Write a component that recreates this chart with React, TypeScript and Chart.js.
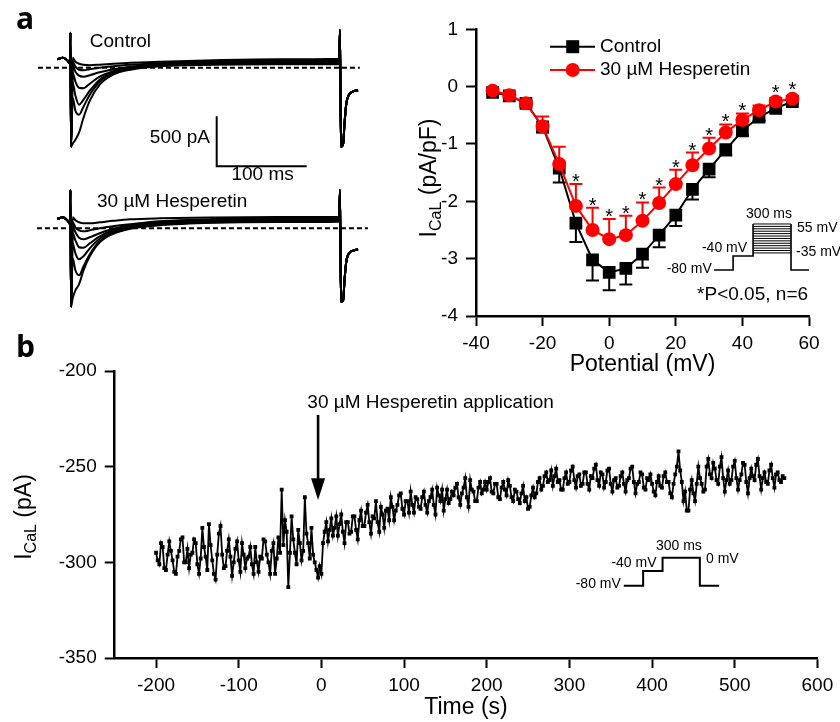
import React, { useEffect, useRef } from "react";
import { Chart, registerables } from "chart.js";

Chart.register(...registerables);

const FONT = '"Liberation Sans", Arial, Helvetica, sans-serif';
const LETTER_FONT = '"Open Sans", "Liberation Sans", sans-serif';
const RED = "#ff0000";

// ---------- Panel a (left): current traces (ms, pA) ----------
const traceTimes = [-14, -8, -3, 0, 0.4, 1.2, 3, 6, 10, 15, 22, 33, 48, 67, 100, 160, 230, 299, 300, 301, 303.5, 305, 307, 310, 314, 320];
const controlTrace1 = [85, 100, 75, 40, 350, -790, -760, -720, -650, -500, -330, -170, -70, -20, 15, 30, 35, 35, 377, -790, -760, -560, -360, -270, -240, -225];
const controlTrace2 = [85, 100, 75, 40, 350, -790, -300, -430, -470, -390, -270, -140, -55, -10, 20, 38, 42, 45, 377, -790, -760, -560, -360, -270, -240, -225];
const controlTrace3 = [85, 100, 75, 40, 350, -790, -150, -280, -370, -320, -230, -120, -45, -5, 25, 45, 50, 55, 377, -790, -760, -560, -360, -270, -240, -225];
const controlTrace4 = [85, 100, 75, 40, 350, -790, -50, -140, -200, -205, -160, -90, -35, 0, 30, 50, 57, 60, 377, -790, -760, -560, -360, -270, -240, -225];
const controlTrace5 = [85, 100, 75, 40, 350, -790, 20, -40, -80, -90, -75, -45, -15, 10, 35, 55, 65, 70, 377, -790, -760, -560, -360, -270, -240, -225];
const controlTrace6 = [85, 100, 75, 40, 350, -790, 100, 60, 40, 30, 25, 30, 40, 50, 60, 75, 85, 90, 377, -790, -760, -560, -360, -270, -240, -225];
const controlTrace7 = [85, 100, 75, 40, 350, -790, 60, 10, -20, -25, -15, 0, 15, 30, 45, 65, 75, 80, 377, -790, -760, -560, -360, -270, -240, -225];
const hesTrace1 = [95, 110, 80, 45, 383, -784, -700, -620, -560, -420, -280, -140, -55, -5, 30, 55, 62, 65, 383, -734, -720, -520, -330, -250, -225, -210];
const hesTrace2 = [95, 110, 80, 45, 383, -784, -300, -420, -470, -380, -260, -130, -50, 0, 35, 60, 68, 72, 383, -734, -720, -520, -330, -250, -225, -210];
const hesTrace3 = [95, 110, 80, 45, 383, -784, -150, -250, -310, -280, -200, -105, -35, 10, 45, 70, 78, 80, 383, -734, -720, -520, -330, -250, -225, -210];
const hesTrace4 = [95, 110, 80, 45, 383, -784, -50, -120, -190, -195, -150, -80, -20, 20, 55, 78, 86, 88, 383, -734, -720, -520, -330, -250, -225, -210];
const hesTrace5 = [95, 110, 80, 45, 383, -784, 20, -40, -95, -110, -90, -50, -5, 30, 65, 85, 93, 95, 383, -734, -720, -520, -330, -250, -225, -210];
const hesTrace6 = [95, 110, 80, 45, 383, -784, 110, 80, 60, 50, 50, 60, 75, 90, 100, 108, 112, 115, 383, -734, -720, -520, -330, -250, -225, -210];
const hesTrace7 = [95, 110, 80, 45, 383, -784, 60, 10, -20, -30, -20, 0, 20, 40, 70, 92, 100, 102, 383, -734, -720, -520, -330, -250, -225, -210];
const controlTraces = [controlTrace1, controlTrace2, controlTrace3, controlTrace4, controlTrace5, controlTrace6, controlTrace7];
const hesTraces = [hesTrace1, hesTrace2, hesTrace3, hesTrace4, hesTrace5, hesTrace6, hesTrace7];
const controlBaselineSpan = [-35.6, 322];
const hesBaselineSpan = [-36.7, 331];
const scaleBarTimes = [163, 263]; // 100 ms
const scaleBarCurrents = [-485, -985]; // 500 pA

// ---------- Panel a (right): I-V relation ----------
const voltages = [-35, -30, -25, -20, -15, -10, -5, 0, 5, 10, 15, 20, 25, 30, 35, 40, 45, 50, 55];
const controlMean = [-0.10, -0.16, -0.29, -0.70, -1.42, -2.38, -3.02, -3.24, -3.17, -2.92, -2.59, -2.24, -1.79, -1.44, -1.10, -0.77, -0.53, -0.38, -0.26];
const controlSem = [0.03, 0.03, 0.05, 0.10, 0.25, 0.33, 0.36, 0.31, 0.28, 0.24, 0.21, 0.19, 0.18, 0.14, 0.10, 0.08, 0.06, 0.05, 0.04];
const hesMean = [-0.07, -0.15, -0.29, -0.69, -1.35, -2.08, -2.50, -2.66, -2.59, -2.34, -2.03, -1.70, -1.37, -1.08, -0.80, -0.58, -0.41, -0.26, -0.21];
const hesSem = [0.03, 0.03, 0.05, 0.17, 0.30, 0.38, 0.39, 0.35, 0.34, 0.32, 0.27, 0.25, 0.22, 0.19, 0.14, 0.11, 0.08, 0.06, 0.05];
const significant = [0, 0, 0, 0, 0, 1, 1, 1, 1, 1, 1, 1, 1, 1, 1, 1, 0, 1, 1];
const ivXTicks = [-40, -20, 0, 20, 40, 60];
const ivYTicks = [-4, -3, -2, -1, 0, 1];

// ---------- Panel b: time course (one sweep every 2 s) ----------
const timeStart = -200;
const timeStep = 2;
const icalValues = [
  -295, -299, -301, -290, -292, -303, -304, -296, -289, -294, -299, -305, -306, -297, -294, -288, -287, -300, -300, -293,
  -303, -296, -295, -288, -290, -301, -306, -298, -282, -292, -297, -304, -280, -291, -299, -306, -309, -296, -285, -281,
  -296, -303, -302, -294, -288, -297, -307, -300, -293, -289, -299, -305, -290, -296, -303, -298, -297, -292, -301, -306,
  -292, -300, -305, -297, -298, -288, -289, -296, -300, -306, -294, -290, -306, -298, -287, -295, -262, -291, -278, -284,
  -313, -295, -276, -288, -295, -301, -283, -290, -299, -294, -266, -285, -290, -298, -282, -296, -300, -304, -308, -302,
  -306, -290, -284, -279, -289, -283, -277, -286, -282, -276, -286, -280, -275, -284, -290, -279, -279, -285, -284, -276,
  -276, -283, -288, -278, -273, -281, -281, -274, -270, -279, -285, -276, -277, -268, -279, -284, -271, -275, -282, -273,
  -272, -278, -266, -271, -278, -273, -270, -265, -264, -272, -275, -268, -268, -274, -263, -270, -274, -266, -267, -271,
  -272, -266, -263, -270, -274, -268, -266, -262, -270, -275, -261, -265, -268, -262, -273, -267, -262, -269, -267, -263,
  -265, -261, -259, -266, -270, -264, -261, -256, -266, -271, -257, -262, -263, -268, -268, -261, -258, -264, -262, -258,
  -262, -258, -256, -263, -264, -259, -259, -266, -267, -261, -258, -262, -265, -257, -260, -266, -268, -262, -263, -267,
  -269, -264, -260, -268, -266, -272, -271, -265, -261, -266, -264, -258, -256, -262, -260, -255, -253, -258, -257, -252,
  -260, -255, -251, -258, -257, -262, -262, -256, -253, -259, -258, -252, -250, -257, -261, -255, -254, -260, -259, -253,
  -253, -259, -262, -255, -256, -251, -249, -257, -260, -253, -254, -261, -258, -252, -251, -259, -263, -257, -256, -261,
  -260, -255, -253, -259, -263, -257, -256, -251, -250, -258, -264, -259, -258, -253, -254, -261, -262, -256, -257, -254,
  -259, -263, -265, -258, -255, -260, -261, -255, -253, -258, -258, -264, -266, -259, -254, -250, -242, -252, -258, -268,
  -263, -273, -273, -262, -257, -264, -268, -259, -250, -256, -259, -263, -262, -250, -246, -254, -256, -248, -251, -257,
  -259, -250, -245, -256, -263, -257, -252, -259, -257, -250, -247, -256, -262, -257, -254, -248, -249, -258, -264, -256,
  -251, -255, -257, -249, -246, -255, -262, -256, -253, -258, -259, -252, -249, -256, -261, -254, -253, -257, -258, -255,
  -256,
];
const bXTicks = [-200, -100, 0, 100, 200, 300, 400, 500, 600];
const bYTicks = [-350, -300, -250, -200];

// ---------- shared helpers ----------
function drawSubscriptTitle(ctx: CanvasRenderingContext2D, cx: number, cy: number, size: number, rest: string) {
  ctx.save();
  ctx.translate(cx, cy);
  ctx.rotate(-Math.PI / 2);
  const big = `${size}px ${FONT}`;
  const small = `${Math.round(size * 0.68)}px ${FONT}`;
  ctx.font = big;
  const wI = ctx.measureText("I").width;
  const wR = ctx.measureText(rest).width;
  ctx.font = small;
  const wS = ctx.measureText("CaL").width;
  let x0 = -(wI + wS + wR) / 2;
  const base = size * 0.35;
  ctx.fillStyle = "#000";
  ctx.textBaseline = "alphabetic";
  ctx.textAlign = "left";
  ctx.font = big;
  ctx.fillText("I", x0, base);
  x0 += wI;
  ctx.font = small;
  ctx.fillText("CaL", x0, base + size * 0.22);
  x0 += wS;
  ctx.font = big;
  ctx.fillText(rest, x0, base);
  ctx.restore();
}

function axisStyle(tickPadding: number) {
  return {
    grid: { display: true, drawOnChartArea: false, drawTicks: true, tickLength: 10, tickWidth: 2, tickColor: "#000" },
    border: { display: true, color: "#000", width: 2.5 },
    ticks: { color: "#000", font: { family: FONT, size: 19 }, padding: tickPadding, maxRotation: 0, autoSkip: false },
  };
}

// ---------- Panel a left chart ----------
const tracePlugin = {
  id: "traceExtras",
  afterDraw(chart: any) {
    const { ctx } = chart;
    const x = chart.scales.x, yc = chart.scales.yc, yh = chart.scales.yh;
    ctx.save();
    ctx.fillStyle = "#000";
    ctx.font = `bold 30px ${LETTER_FONT}`;
    ctx.textAlign = "left";
    ctx.textBaseline = "alphabetic";
    ctx.fillText("a", 16, 29);
    ctx.font = `19px ${FONT}`;
    ctx.textBaseline = "middle";
    ctx.fillText("Control", x.getPixelForValue(22), yc.getPixelForValue(257));
    ctx.fillText("30 µM Hesperetin", x.getPixelForValue(30), yh.getPixelForValue(263));
    ctx.textAlign = "right";
    ctx.fillText("500 pA", x.getPixelForValue(155.6), yc.getPixelForValue(-703));
    ctx.textAlign = "center";
    ctx.fillText("100 ms", x.getPixelForValue(214), yc.getPixelForValue(-1075));
    ctx.restore();
  },
};

function makeTraceConfig() {
  const mk = (vals: number[], axis: string) => ({
    data: traceTimes.map((t, i) => ({ x: t, y: vals[i] })),
    yAxisID: axis,
    borderColor: "#000",
    borderWidth: 2,
    pointRadius: 0,
    cubicInterpolationMode: "monotone",
    fill: false,
  });
  const datasets: any[] = [
    ...controlTraces.map((v) => mk(v, "yc")),
    ...hesTraces.map((v) => mk(v, "yh")),
    {
      data: [{ x: controlBaselineSpan[0], y: 0 }, { x: controlBaselineSpan[1], y: 0 }],
      yAxisID: "yc", borderColor: "#000", borderWidth: 2, borderDash: [5, 3], pointRadius: 0,
    },
    {
      data: [{ x: hesBaselineSpan[0], y: 0 }, { x: hesBaselineSpan[1], y: 0 }],
      yAxisID: "yh", borderColor: "#000", borderWidth: 2, borderDash: [5, 3], pointRadius: 0,
    },
    {
      data: [
        { x: scaleBarTimes[0], y: scaleBarCurrents[0] },
        { x: scaleBarTimes[0], y: scaleBarCurrents[1] },
        { x: scaleBarTimes[1], y: scaleBarCurrents[1] },
      ],
      yAxisID: "yc", borderColor: "#000", borderWidth: 2, pointRadius: 0,
    },
  ];
  return {
    type: "line",
    data: { datasets },
    options: {
      animation: false,
      responsive: false,
      events: [],
      layout: { padding: 0 },
      plugins: { legend: { display: false }, tooltip: { enabled: false } },
      scales: {
        x: { type: "linear", display: false, min: -77.78, max: 372.22 },
        yc: { type: "linear", display: false, min: -2523, max: 677 },
        yh: { type: "linear", display: false, min: -917, max: 2283 },
      },
    },
    plugins: [tracePlugin],
  };
}

// ---------- Panel a right chart ----------
const ivInset = { x0: 31.5, x1: 37.2, x2: 43.2, x3: 54.6, x4: 60, hold: -3.197, pre: -2.953, top: -2.395, bottom: -2.9, lines: 13 };
const ivLegend = { x0: 145, x1: 190, mark: 167.7, text: 195, rows: [46.7, 70] };

const ivPlugin = {
  id: "ivExtras",
  beforeDatasetsDraw(chart: any) {
    const { ctx } = chart;
    const x = chart.scales.x, y = chart.scales.y;
    ctx.save();
    ctx.lineWidth = 2;
    const bars = (color: string, means: number[], errs: number[], dir: number) => {
      ctx.strokeStyle = color;
      voltages.forEach((v, i) => {
        const px = x.getPixelForValue(v);
        const y0 = y.getPixelForValue(means[i]);
        const y1 = y.getPixelForValue(means[i] + dir * errs[i]);
        ctx.beginPath();
        ctx.moveTo(px, y0);
        ctx.lineTo(px, y1);
        ctx.moveTo(px - 6.5, y1);
        ctx.lineTo(px + 6.5, y1);
        ctx.stroke();
      });
    };
    bars("#000", controlMean, controlSem, -1);
    bars(RED, hesMean, hesSem, 1);
    ctx.restore();
  },
  afterDraw(chart: any) {
    const { ctx, chartArea } = chart;
    const x = chart.scales.x, y = chart.scales.y;
    const X = (v: number) => x.getPixelForValue(v);
    const Y = (v: number) => y.getPixelForValue(v);
    ctx.save();
    // significance stars
    ctx.fillStyle = "#000";
    ctx.font = `20px ${FONT}`;
    ctx.textAlign = "center";
    ctx.textBaseline = "alphabetic";
    voltages.forEach((v, i) => {
      if (!significant[i]) return;
      const top = Math.min(Y(hesMean[i] + hesSem[i]), Y(hesMean[i]) - 7);
      ctx.fillText("*", X(v), top + 4);
    });
    // legend
    const L = ivLegend;
    ctx.lineWidth = 2;
    ctx.strokeStyle = "#000";
    ctx.beginPath();
    ctx.moveTo(L.x0, L.rows[0]);
    ctx.lineTo(L.x1, L.rows[0]);
    ctx.stroke();
    ctx.fillRect(L.mark - 6.5, L.rows[0] - 6.5, 13, 13);
    ctx.strokeStyle = RED;
    ctx.fillStyle = RED;
    ctx.beginPath();
    ctx.moveTo(L.x0, L.rows[1]);
    ctx.lineTo(L.x1, L.rows[1]);
    ctx.stroke();
    ctx.beginPath();
    ctx.arc(L.mark, L.rows[1], 7, 0, Math.PI * 2);
    ctx.fill();
    ctx.fillStyle = "#000";
    ctx.font = `19px ${FONT}`;
    ctx.textAlign = "left";
    ctx.textBaseline = "middle";
    ctx.fillText("Control", L.text, L.rows[0]);
    ctx.fillText("30 µM Hesperetin", L.text, L.rows[1]);
    // protocol inset
    const P = ivInset;
    ctx.strokeStyle = "#000";
    ctx.lineWidth = 1.6;
    ctx.beginPath();
    ctx.moveTo(X(P.x0), Y(P.hold));
    ctx.lineTo(X(P.x1), Y(P.hold));
    ctx.lineTo(X(P.x1), Y(P.pre));
    ctx.lineTo(X(P.x2), Y(P.pre));
    ctx.lineTo(X(P.x2), Y(P.top));
    ctx.moveTo(X(P.x3), Y(P.top));
    ctx.lineTo(X(P.x3), Y(P.hold));
    ctx.lineTo(X(P.x4), Y(P.hold));
    ctx.stroke();
    ctx.lineWidth = 1;
    for (let k = 0; k < P.lines; k++) {
      const lv = P.top + ((P.bottom - P.top) * k) / (P.lines - 1);
      ctx.beginPath();
      ctx.moveTo(X(P.x2), Y(lv));
      ctx.lineTo(X(P.x3), Y(lv));
      ctx.stroke();
    }
    ctx.font = `14px ${FONT}`;
    ctx.textAlign = "center";
    ctx.fillText("300 ms", X(48.0), Y(-2.22));
    ctx.textAlign = "left";
    ctx.fillText("55 mV", X(56.4), Y(-2.465));
    ctx.fillText("-35 mV", X(56.1), Y(-2.883));
    ctx.textAlign = "right";
    ctx.fillText("-40 mV", X(41.4), Y(-2.813));
    ctx.fillText("-80 mV", X(30.8), Y(-3.18));
    ctx.font = `19px ${FONT}`;
    ctx.textAlign = "left";
    ctx.fillText("*P<0.05, n=6", X(26.4), Y(-3.63));
    // axis titles
    ctx.font = `23px ${FONT}`;
    ctx.textAlign = "center";
    ctx.fillText("Potential (mV)", (chartArea.left + chartArea.right) / 2, 365);
    ctx.restore();
    drawSubscriptTitle(ctx, 23, 178, 23, " (pA/pF)");
  },
};

function makeIVConfig() {
  const ax = axisStyle(6);
  const ay = axisStyle(8);
  return {
    type: "line",
    data: {
      datasets: [
        {
          data: voltages.map((v, i) => ({ x: v, y: hesMean[i] })),
          borderColor: RED, backgroundColor: RED, borderWidth: 2,
          pointStyle: "circle", pointRadius: 7, pointBorderWidth: 0, order: 0,
        },
        {
          data: voltages.map((v, i) => ({ x: v, y: controlMean[i] })),
          borderColor: "#000", backgroundColor: "#000", borderWidth: 2,
          pointStyle: "rect", pointRadius: 9, pointBorderWidth: 0, order: 1,
        },
      ],
    },
    options: {
      animation: false,
      responsive: false,
      events: [],
      layout: { padding: { top: 29.3, right: 31, left: 0, bottom: 0 } },
      plugins: { legend: { display: false }, tooltip: { enabled: false } },
      scales: {
        x: {
          type: "linear", min: -40, max: 60, ...ax,
          afterBuildTicks: (s: any) => { s.ticks = ivXTicks.map((v) => ({ value: v })); },
          afterFit: (s: any) => { s.height = 64; },
        },
        y: {
          type: "linear", min: -4, max: 1, ...ay,
          afterBuildTicks: (s: any) => { s.ticks = ivYTicks.map((v) => ({ value: v })); },
          afterFit: (s: any) => { s.width = 71; },
        },
      },
    },
    plugins: [ivPlugin],
  };
}

// ---------- Panel b chart ----------
const bArrow = { t: -4, from: -223, head: -256, tip: -267.4 };
const bInset = { t0: 365.8, t1: 389.2, t2: 412.7, t3: 457.8, t4: 481.2, hold: -312.2, pre: -304.5, step: -297.6 };

const timePlugin = {
  id: "timeExtras",
  afterDraw(chart: any) {
    const { ctx, chartArea } = chart;
    const x = chart.scales.x, y = chart.scales.y;
    const X = (v: number) => x.getPixelForValue(v);
    const Y = (v: number) => y.getPixelForValue(v);
    ctx.save();
    ctx.fillStyle = "#000";
    ctx.strokeStyle = "#000";
    // panel letter
    ctx.font = `bold 30px ${LETTER_FONT}`;
    ctx.textAlign = "left";
    ctx.textBaseline = "alphabetic";
    ctx.fillText("b", 16, 27);
    // arrow + label
    const ax = X(bArrow.t);
    ctx.lineWidth = 2.6;
    ctx.beginPath();
    ctx.moveTo(ax, Y(bArrow.from));
    ctx.lineTo(ax, Y(bArrow.head) + 1);
    ctx.stroke();
    ctx.beginPath();
    ctx.moveTo(ax - 7, Y(bArrow.head));
    ctx.lineTo(ax + 7, Y(bArrow.head));
    ctx.lineTo(ax, Y(bArrow.tip));
    ctx.closePath();
    ctx.fill();
    ctx.font = `19px ${FONT}`;
    ctx.textBaseline = "middle";
    ctx.fillText("30 µM Hesperetin application", X(-17), Y(-216.6));
    // protocol inset
    const P = bInset;
    ctx.lineWidth = 2;
    ctx.beginPath();
    ctx.moveTo(X(P.t0), Y(P.hold));
    ctx.lineTo(X(P.t1), Y(P.hold));
    ctx.lineTo(X(P.t1), Y(P.pre));
    ctx.lineTo(X(P.t2), Y(P.pre));
    ctx.lineTo(X(P.t2), Y(P.step));
    ctx.lineTo(X(P.t3), Y(P.step));
    ctx.lineTo(X(P.t3), Y(P.hold));
    ctx.lineTo(X(P.t4), Y(P.hold));
    ctx.stroke();
    ctx.font = `14px ${FONT}`;
    ctx.textAlign = "center";
    ctx.fillText("300 ms", X(432.4), Y(-291.3));
    ctx.textAlign = "right";
    ctx.fillText("-40 mV", X(405.4), Y(-300.5));
    ctx.fillText("-80 mV", X(362.2), Y(-311.3));
    ctx.textAlign = "left";
    ctx.fillText("0 mV", X(465.2), Y(-298.4));
    // axis titles
    ctx.font = `23px ${FONT}`;
    ctx.textAlign = "center";
    ctx.fillText("Time (s)", (chartArea.left + chartArea.right) / 2, 378);
    ctx.restore();
    drawSubscriptTitle(ctx, 23, 187, 23, " (pA)");
  },
};

function makeTimeConfig() {
  const ax = axisStyle(6);
  const ay = axisStyle(8);
  return {
    type: "line",
    data: {
      datasets: [
        {
          data: icalValues.map((v, i) => ({ x: timeStart + i * timeStep, y: v })),
          borderColor: "#000", backgroundColor: "#000", borderWidth: 1.8,
          pointStyle: "rect", pointRadius: 2.7, pointBorderWidth: 0,
        },
      ],
    },
    options: {
      animation: false,
      responsive: false,
      events: [],
      layout: { padding: { top: 41, right: 22.6, left: 0, bottom: 0 } },
      plugins: { legend: { display: false }, tooltip: { enabled: false } },
      scales: {
        x: {
          type: "linear", min: -250, max: 600, ...ax,
          afterBuildTicks: (s: any) => { s.ticks = bXTicks.map((v) => ({ value: v })); },
          afterFit: (s: any) => { s.height = 64; },
        },
        y: {
          type: "linear", min: -350, max: -200, ...ay,
          afterBuildTicks: (s: any) => { s.ticks = bYTicks.map((v) => ({ value: v })); },
          afterFit: (s: any) => { s.width = 114.7; },
        },
      },
    },
    plugins: [timePlugin],
  };
}

function ChartCanvas({ left, top, width, height, make }: { left: number; top: number; width: number; height: number; make: () => any }) {
  const ref = useRef<HTMLCanvasElement | null>(null);
  useEffect(() => {
    const chart = new Chart(ref.current as HTMLCanvasElement, make());
    return () => chart.destroy();
  }, []);
  return (
    <canvas
      ref={ref}
      width={width}
      height={height}
      style={{ position: "absolute", left, top, width, height }}
    />
  );
}

export default function App() {
  return (
    <div style={{ position: "absolute", left: 0, top: 0, width: 840, height: 722, background: "#fff", overflow: "hidden" }}>
      <ChartCanvas left={405} top={0} width={435} height={380} make={makeIVConfig} />
      <ChartCanvas left={0} top={330} width={840} height={392} make={makeTimeConfig} />
      <ChartCanvas left={0} top={0} width={405} height={320} make={makeTraceConfig} />
    </div>
  );
}
